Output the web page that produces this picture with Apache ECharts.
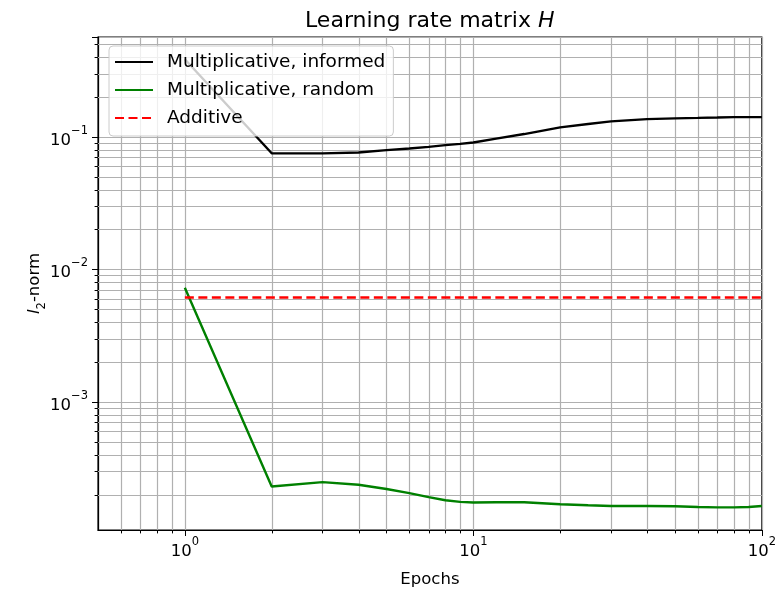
<!DOCTYPE html>
<html>
<head>
<meta charset="utf-8">
<script src="https://cdn.jsdelivr.net/npm/echarts@6/dist/echarts.min.js"></script>
<style>
  html, body { margin: 0; padding: 0; background: #fff; }
  #chart { width: 779px; height: 597px; }
</style>
</head>
<body>
<div id="chart"></div>
<script>
// Epochs at which the norms were recorded
const epochs = [1, 2, 3, 4, 5, 6, 7, 8, 9, 10, 12, 15, 20, 25, 30, 40, 50, 60, 70, 80, 90, 100];
const informedNorm = [0.385, 0.0753, 0.0750, 0.0762, 0.0794, 0.0817, 0.0841, 0.0866, 0.0886, 0.0907,
  0.0970, 0.105, 0.118, 0.125, 0.131, 0.136, 0.138, 0.139, 0.140, 0.141, 0.141, 0.141];
const randomNorm = [0.00728, 0.000230, 0.000248, 0.000237, 0.000220, 0.000205, 0.000191, 0.000181, 0.000176, 0.000174,
  0.000175, 0.000175, 0.000169, 0.000166, 0.000164, 0.000164, 0.000163, 0.000161, 0.000160, 0.000160, 0.000161, 0.000164];
const additiveEpochs = [1, 100];
const additiveNorm = [0.00613, 0.00613];

const seriesNames = ['Multiplicative, informed', 'Multiplicative, random', 'Additive'];

// Axis ranges
const xRange = [0.5, 100];
const yRange = [1.08e-4, 0.567];

// Minor (2..9 per decade) tick positions inside the axis ranges
function minorTicks(lo, hi) {
  const out = [];
  for (let e = Math.floor(Math.log10(lo)); e <= Math.ceil(Math.log10(hi)); e++) {
    for (let m = 2; m <= 9; m++) {
      const v = m * Math.pow(10, e);
      if (v > lo && v < hi) out.push(+v.toPrecision(6));
    }
  }
  return out;
}
const xMinor = minorTicks(xRange[0], xRange[1]);
const yMinor = minorTicks(yRange[0], yRange[1]);

const FONT = 'DejaVu Sans';
const supRich = {
  b: { fontFamily: FONT, fontSize: 16.5, color: '#000', lineHeight: 24, verticalAlign: 'bottom' },
  s: { fontFamily: FONT, fontSize: 11.5, color: '#000', lineHeight: 14, verticalAlign: 'top' }
};
function powLabel(v) {
  const e = Math.log10(v);
  if (Math.abs(e - Math.round(e)) > 1e-6) return '';
  const r = Math.round(e);
  return '{b|10}{s|' + (r < 0 ? '\u2212' + (-r) : r) + '}';
}

// Minor gridlines plus the short minor tick marks, placed through the axis scales
const minorData = xMinor.map(v => [v, 1e-2, 0]).concat(yMinor.map(v => [1, v, 1]));
function renderMinor(params, api) {
  const cs = params.coordSys;
  const p = api.coord([api.value(0), api.value(1)]);
  const grid = { stroke: '#b0b0b0', lineWidth: 1.2 };
  const tick = { stroke: '#000', lineWidth: 1 };
  if (api.value(2) === 0) {
    const x = Math.round(p[0]) + 0.5;
    return { type: 'group', children: [
      { type: 'line', shape: { x1: x, y1: cs.y, x2: x, y2: cs.y + cs.height }, style: grid },
      { type: 'line', shape: { x1: x, y1: cs.y + cs.height, x2: x, y2: cs.y + cs.height + 3.4 }, style: tick }
    ] };
  }
  const y = Math.round(p[1]) + 0.5;
  return { type: 'group', children: [
    { type: 'line', shape: { x1: cs.x, y1: y, x2: cs.x + cs.width, y2: y }, style: grid },
    { type: 'line', shape: { x1: cs.x - 3.4, y1: y, x2: cs.x, y2: y }, style: tick }
  ] };
}

const chart = echarts.init(document.getElementById('chart'), null, { renderer: 'canvas' });
chart.setOption({
  backgroundColor: '#fff',
  animation: false,
  title: {
    text: '{t|Learning rate matrix }{h|H}',
    left: 300,
    top: 5,
    textStyle: {
      rich: {
        t: { fontFamily: FONT, fontSize: 22, color: '#000', fontWeight: 'normal' },
        h: { fontFamily: FONT, fontSize: 22, color: '#000', fontStyle: 'italic', fontWeight: 'normal' }
      }
    }
  },
  grid: {
    left: 98, right: 17, top: 37, bottom: 67,
    show: true, borderColor: '#000', borderWidth: 1.2, backgroundColor: 'transparent'
  },
  legend: {
    data: seriesNames,
    orient: 'vertical',
    left: 109, top: 46,
    padding: [6, 8, 8, 5],
    itemWidth: 38, itemHeight: 14, itemGap: 8,
    itemStyle: { opacity: 0 },
    backgroundColor: 'rgba(255,255,255,0.8)',
    borderColor: '#cccccc', borderWidth: 1, borderRadius: 4,
    textStyle: { fontFamily: FONT, fontSize: 18.5, lineHeight: 20, color: '#000', padding: [0, 0, 0, 9] },
    selectedMode: false
  },
  xAxis: {
    type: 'log', logBase: 10, min: xRange[0], max: xRange[1],
    name: 'Epochs', nameLocation: 'middle', nameGap: 41, nameMoveOverlap: false,
    nameTextStyle: { fontFamily: FONT, fontSize: 16.5, color: '#000' },
    axisLine: { show: true, lineStyle: { color: '#000', width: 1.2 } },
    axisTick: { show: true, inside: false, length: 6, lineStyle: { color: '#000', width: 1 } },
    axisLabel: { formatter: powLabel, margin: 6, rich: supRich, showMinLabel: false },
    splitLine: { show: true, lineStyle: { color: '#b0b0b0', width: 1.2 } },
    minorTick: { show: false }
  },
  yAxis: {
    type: 'log', logBase: 10, min: yRange[0], max: yRange[1],
    name: '{i|l}{s|2}{n|-norm}', nameLocation: 'middle', nameGap: 50, nameRotate: 90, nameMoveOverlap: false,
    nameTextStyle: {
      rich: {
        i: { fontFamily: FONT, fontSize: 16.5, color: '#000', fontStyle: 'italic', lineHeight: 22, verticalAlign: 'top' },
        s: { fontFamily: FONT, fontSize: 11.5, color: '#000', lineHeight: 22, verticalAlign: 'bottom' },
        n: { fontFamily: FONT, fontSize: 16.5, color: '#000', lineHeight: 22, verticalAlign: 'top' }
      }
    },
    axisLine: { show: true, lineStyle: { color: '#000', width: 1.2 } },
    axisTick: { show: true, inside: false, length: 6, lineStyle: { color: '#000', width: 1 } },
    axisLabel: { formatter: powLabel, margin: 10, rich: supRich, showMinLabel: false },
    splitLine: { show: true, lineStyle: { color: '#b0b0b0', width: 1.2 } },
    minorTick: { show: false }
  },
  series: [
    {
      type: 'custom', name: 'minor-grid', silent: true, z: 1,
      renderItem: renderMinor, data: minorData, clip: false
    },
    {
      type: 'line', name: seriesNames[0], z: 3,
      data: epochs.map((e, i) => [e, informedNorm[i]]),
      symbol: 'none', lineStyle: { color: '#000000', width: 2.4 }, itemStyle: { color: '#000000' }
    },
    {
      type: 'line', name: seriesNames[1], z: 3,
      data: epochs.map((e, i) => [e, randomNorm[i]]),
      symbol: 'none', lineStyle: { color: '#008000', width: 2.4 }, itemStyle: { color: '#008000' }
    },
    {
      type: 'line', name: seriesNames[2], z: 3,
      data: additiveEpochs.map((e, i) => [e, additiveNorm[i]]),
      symbol: 'none', lineStyle: { color: '#ff0000', width: 2.4, type: [9, 4.5] }, itemStyle: { color: '#ff0000' }
    }
  ]
});
</script>
</body>
</html>
